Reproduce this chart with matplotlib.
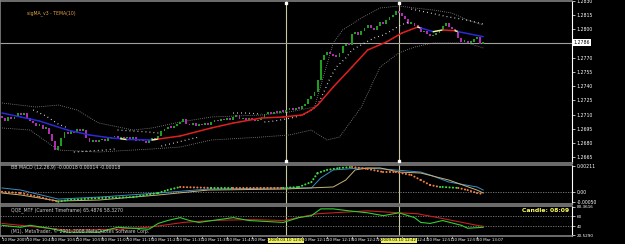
import numpy as np
import matplotlib
matplotlib.use("Agg")
import matplotlib.pyplot as plt

W, H = 625, 244

# EURUSD M1, 10 Mar 2009, first bar 10:35
first_open = 1.2709
close = [1.2706, 1.2703, 1.2708, 1.2705, 1.2707, 1.2712, 1.2710, 1.2712, 1.2706, 1.2703,
         1.2701, 1.2698, 1.2699, 1.2695, 1.2696, 1.2690, 1.2682, 1.2673, 1.2677, 1.2685,
         1.2692, 1.2690, 1.2693, 1.2691, 1.2695, 1.2693, 1.2694, 1.2685, 1.2681, 1.2683,
         1.2681, 1.2683, 1.2684, 1.2682, 1.2685, 1.2686, 1.2687, 1.2685, 1.2686, 1.2685,
         1.2686, 1.2684, 1.2686, 1.2682, 1.2684, 1.2682, 1.2680, 1.2683, 1.2685, 1.2684,
         1.2687, 1.2693, 1.2695, 1.2697, 1.2696, 1.2698, 1.2700, 1.2702, 1.2705, 1.2700,
         1.2699, 1.2701, 1.2698, 1.2700, 1.2699, 1.2701, 1.2699, 1.2702, 1.2704, 1.2703,
         1.2705, 1.2704, 1.2706, 1.2704, 1.2707, 1.2710, 1.2705, 1.2706, 1.2704, 1.2706,
         1.2705, 1.2703, 1.2704, 1.2706, 1.2711, 1.2712, 1.2711, 1.2713, 1.2712, 1.2714,
         1.2713, 1.2715, 1.2716, 1.2715, 1.2717, 1.2716, 1.2719, 1.2721, 1.2727, 1.2730,
         1.2734, 1.2747, 1.2768, 1.2773, 1.2776, 1.2774, 1.2772, 1.2771, 1.2775, 1.2783,
         1.2785, 1.2784, 1.2795, 1.2797, 1.2794, 1.2798, 1.2802, 1.2805, 1.2802, 1.2799,
         1.2804, 1.2808, 1.2806, 1.2810, 1.2813, 1.2815, 1.2819, 1.2817, 1.2814, 1.2811,
         1.2806, 1.2807, 1.2804, 1.2803, 1.2797, 1.2798, 1.2795, 1.2793, 1.2794, 1.2796,
         1.2799, 1.2804, 1.2807, 1.2803, 1.2800, 1.2798, 1.2791, 1.2787, 1.2788, 1.2786,
         1.2787, 1.2790, 1.2792, 1.2785, 1.2786]

# sigMA / TEMA line (bar, price, colour)
ma_bar = [0, 6, 12, 21, 28, 35, 38, 40, 48, 50, 57, 67, 74, 83, 90, 96, 99, 101, 106,
          112, 117, 123, 128, 133, 134, 138, 141, 145, 146, 154]
ma_val = [1.27117, 1.27075, 1.27032, 1.26937, 1.26885, 1.26853, 1.26845, 1.26837, 1.26832,
          1.26842, 1.26874, 1.26959, 1.27011, 1.27064, 1.27075, 1.27096, 1.27149, 1.27201,
          1.27392, 1.27603, 1.27782, 1.27867, 1.27962, 1.28025, 1.28015, 1.27976, 1.27994,
          1.27986, 1.27976, 1.27923]
ma_col = ["b", "b", "b", "b", "b", "b", "b", "y", "b", "y", "r", "r", "r", "r", "r", "r",
          "r", "r", "r", "r", "r", "r", "r", "r", "y", "b", "y", "r", "y", "b"]

# Bollinger bands
bb_up_bar = [0, 11, 18, 24, 31, 42, 48, 57, 67, 83, 92, 100, 106, 109, 115, 121, 127, 132,
             138, 144, 149, 154]
bb_up = [1.27223, 1.27180, 1.27201, 1.27149, 1.27011, 1.26937, 1.26959, 1.27022, 1.27075,
         1.27096, 1.27128, 1.27180, 1.27856, 1.27994, 1.28120, 1.28226, 1.28247, 1.28226,
         1.28205, 1.28173, 1.28099, 1.28046]
bb_lo_bar = [0, 9, 18, 31, 42, 48, 57, 67, 83, 92, 99, 104, 108, 115, 121, 127, 132, 138,
             149, 154]
bb_lo = [1.26959, 1.26937, 1.26726, 1.26705, 1.26726, 1.26737, 1.26758, 1.26832, 1.26863,
         1.26885, 1.26937, 1.26832, 1.26863, 1.27180, 1.27603, 1.27751, 1.27814, 1.27856,
         1.27856, 1.27804]

# parabolic SAR runs
sar_runs = [
    ([10, 14, 18, 21], [1.27149, 1.27086, 1.27001, 1.26959]),
    ([23, 28, 33, 36], [1.26705, 1.26716, 1.26726, 1.26737]),
    ([37, 42, 47, 50], [1.26937, 1.26927, 1.26916, 1.26906]),
    ([51, 55, 59, 63], [1.26768, 1.26800, 1.26832, 1.26863]),
    ([74, 78, 83], [1.27117, 1.27117, 1.27106]),
    ([84, 87, 91, 94, 97, 99, 101, 103, 105, 107, 110, 112, 116, 119, 122, 125, 127, 130],
     [1.27022, 1.27032, 1.27054, 1.27075, 1.27107, 1.27149, 1.27201, 1.27339, 1.27487,
      1.27603, 1.27698, 1.27782, 1.27856, 1.27909, 1.27941, 1.27994, 1.28036, 1.28078]),
    ([131, 134, 137, 140, 143, 147, 150, 154],
     [1.28215, 1.28194, 1.28173, 1.28152, 1.28131, 1.28110, 1.28089, 1.28057]),
]

# BB MACD
macd_bar = [0, 6, 12, 18, 21, 31, 42, 50, 53, 57, 67, 74, 90, 95, 99, 101, 104, 108, 112,
            117, 122, 126, 131, 134, 137, 140, 141, 146, 149, 152, 154]
macd_val = [0.00002, -0.00008, -0.00040, -0.00079, -0.00065, -0.00049, -0.00041, -0.00008,
            0.00016, 0.00041, 0.00033, 0.00033, 0.00033, 0.00041, 0.00081, 0.00154, 0.00179,
            0.00195, 0.00203, 0.00187, 0.00162, 0.00162, 0.00138, 0.00097, 0.00057, 0.00041,
            0.00041, 0.00033, 0.00016, -0.00008, -0.00016]
macd_col = ["o", "o", "o", "o", "g", "g", "g", "g", "g", "g", "o", "g", "o", "g", "g", "g",
            "g", "g", "g", "o", "o", "o", "o", "o", "o", "o", "g", "g", "o", "o", "o"]
band1_bar = [0, 6, 18, 31, 50, 66, 90, 99, 102, 106, 115, 122, 130, 134, 137, 143, 152, 154]
band1 = [0.00033, 0.00016, -0.00057, -0.00041, -0.00008, 0.00024, 0.00033, 0.00033, 0.00114,
         0.00179, 0.00195, 0.00187, 0.00170, 0.00162, 0.00138, 0.00081, 0.00041, 0.00016]
band2_bar = [0, 6, 18, 31, 50, 66, 90, 106, 110, 113, 117, 121, 127, 134, 143, 152, 154]
band2 = [-0.00008, -0.00024, -0.00073, -0.00065, -0.00024, 0.00016, 0.00024, 0.00041,
         0.00097, 0.00179, 0.00195, 0.00195, 0.00162, 0.00154, 0.00097, 0.00016, -0.00008]

# QQE MTF
qqe_bar = [0, 6, 9, 15, 21, 31, 37, 42, 47, 50, 53, 57, 60, 63, 74, 79, 90, 95, 99, 102, 106,
           111, 117, 122, 127, 132, 134, 137, 141, 147, 149, 154]
qqe_fast = [41.8, 37.9, 41.8, 36.0, 28.2, 28.2, 37.9, 36.0, 34.0, 45.6, 51.4, 57.2, 51.4, 47.6,
            57.2, 51.4, 47.6, 57.2, 61.1, 74.6, 74.6, 70.7, 66.8, 61.1, 66.8, 57.2, 47.6, 45.6,
            51.4, 41.8, 36.0, 37.9]
qqe_slow_bar = [0, 21, 37, 47, 58, 67, 79, 90, 101, 106, 117, 127, 133, 141, 152, 154]
qqe_slow = [45.6, 32.1, 34.0, 37.9, 47.6, 51.4, 53.3, 51.4, 64.9, 66.8, 70.7, 66.8, 64.9,
            55.3, 41.8, 39.9]

price_ticks = [1.2830, 1.2815, 1.2800, 1.2770, 1.2755, 1.2740, 1.2725, 1.2710, 1.2695,
               1.2680, 1.2665]
time_labels = ["10 Mar 2009", "10 Mar 10:43", "10 Mar 10:51", "10 Mar 10:59", "10 Mar 11:07",
               "10 Mar 11:15", "10 Mar 11:23", "10 Mar 11:31", "10 Mar 11:39", "10 Mar 11:47",
               "10 Mar 11:55", "10 Mar 12:03", "10 Mar 12:11", "10 Mar 12:19", "10 Mar 12:27",
               "10 Mar 12:35", "10 Mar 12:43", "10 Mar 12:51", "10 Mar 12:59", "10 Mar 13:07"]
vlines = [91, 127]
vline_labels = ["2009.03.10 12:06", "2009.03.10 12:42"]
bid = 1.2786

GREEN, PURPLE = "#1e9e1e", "#b02cb0"
MA_COL = {"b": "#2a2ad8", "r": "#e02020", "y": "#f0f0a8"}
DOT_COL = {"g": "#3ce03c", "o": "#f08040"}
GRID = "#808080"
FS = 3.3
FS_T = 2.75

fig = plt.figure(figsize=(W / 100, H / 100), dpi=100, facecolor="black")


def box(top, bottom):
    return [0, 1 - bottom / H, 572 / W, (bottom - top) / H]


ax = fig.add_axes(box(1, 163))
ax_macd = fig.add_axes(box(165, 204))
ax_qqe = fig.add_axes(box(206, 236))

for a in (ax, ax_macd, ax_qqe):
    a.set_facecolor("black")
    a.set_xlim(-0.64, 182.4)
    a.set_xticks([])
    for s in ("top", "bottom", "left"):
        a.spines[s].set_color(GRID)
        a.spines[s].set_linewidth(1.2)
    a.spines["right"].set_color("white")
    a.spines["right"].set_linewidth(0.8)
    a.yaxis.tick_right()
    a.tick_params(axis="y", colors="white", labelsize=FS, length=2, width=0.5, pad=1.5)
    for v in vlines:
        a.axvline(v, color="#c8c8a0", lw=0.8, zorder=1)

# ---- main price chart ----
ax.set_ylim(1.26589, 1.2830)
o = np.array([first_open] + close[:-1])
c = np.array(close)
idx = np.arange(len(c))
up = c >= o
h = np.maximum(np.abs(c - o), 0.00016)
low = np.minimum(o, c)
ax.bar(idx[up], h[up], bottom=low[up], width=0.62, color=GREEN, zorder=3)
ax.bar(idx[~up], h[~up], bottom=low[~up], width=0.62, color=PURPLE, zorder=3)

ax.plot(bb_up_bar, bb_up, color="#8c8c8c", lw=0.6, ls=(0, (1, 1.5)), zorder=2)
ax.plot(bb_lo_bar, bb_lo, color="#8c8c8c", lw=0.6, ls=(0, (1, 1.5)), zorder=2)
for bars, vals in sar_runs:
    ax.plot(bars, vals, color="white", lw=0.9, ls=(0, (0.6, 2.6)), zorder=4)
for j in range(len(ma_bar) - 1):
    ax.plot(ma_bar[j:j + 2], ma_val[j:j + 2], color=MA_COL[ma_col[j + 1]], lw=1.1,
            solid_capstyle="round", zorder=5)

ax.axhline(bid, color="#a0a0a0", lw=0.8, zorder=1)
ax.set_yticks(price_ticks)
ax.set_yticklabels(["%.4f" % p for p in price_ticks])
ax.text(1.003, bid, "%.4f" % bid, transform=ax.get_yaxis_transform(), ha="left",
        va="center", fontsize=FS, color="black",
        bbox=dict(boxstyle="square,pad=0.15", fc="white", ec="none"), clip_on=False)
ax.text(8, 0.928, "sigMA_v3 - TEMA(10)", transform=ax.get_xaxis_transform(),
        fontsize=FS, color="#e0a040", va="center")
for v in vlines:
    ax.plot([v], [0.985], marker="s", ms=1.6, color="white",
            transform=ax.get_xaxis_transform(), clip_on=False, zorder=6)
    ax.plot([v], [0.01], marker="s", ms=1.6, color="white",
            transform=ax.get_xaxis_transform(), clip_on=False, zorder=6)

# ---- BB MACD ----
ax_macd.set_ylim(-0.00097, 0.00219)
ax_macd.axhline(0, color=GRID, lw=0.6, ls=(0, (1.5, 1.5)))
ax_macd.plot(band1_bar, band1, color="#3c8cc8", lw=0.7)
ax_macd.plot(band2_bar, band2, color="#c8b478", lw=0.7)
for j in range(len(macd_bar) - 1):
    ax_macd.plot(macd_bar[j:j + 2], macd_val[j:j + 2], color=DOT_COL[macd_col[j + 1]],
                 lw=1.5, ls=(0, (0.05, 1.6)), dash_capstyle="round", zorder=3)
ax_macd.set_yticks([0.00211, 0.0, -0.00083])
ax_macd.set_yticklabels(["0.00211", "0.00", "-0.00050"])
ax_macd.text(3, 0.93, "BB MACD (12,26,9) -0.00018 0.00014 -0.00018",
             transform=ax_macd.get_xaxis_transform(), fontsize=FS, color="#d0d0d0",
             va="center")

# ---- QQE ----
ax_qqe.set_ylim(20.5290, 80.3616)
for lv in (60, 40):
    ax_qqe.axhline(lv, color=GRID, lw=0.6, ls=(0, (1.5, 1.5)))
ax_qqe.plot(qqe_slow_bar, qqe_slow, color="#c82020", lw=0.8)
ax_qqe.plot(qqe_bar, qqe_fast, color="#30d030", lw=0.8)
ax_qqe.set_yticks([79.0, 60, 40, 22.0])
ax_qqe.set_yticklabels(["80.3616", "60", "40", "20.5290"])
ax_qqe.tick_params(axis="y", labelsize=3.0)
ax_qqe.text(3, 0.86, "QQE_MTF (Current Timeframe) 65.4876 58.3270",
            transform=ax_qqe.get_xaxis_transform(), fontsize=FS, color="#d0d0d0",
            va="center")
ax_qqe.text(3, 0.16, "(M1), MetaTrader, \u00a9 2001-2008 MetaQuotes Software Corp.",
            transform=ax_qqe.get_xaxis_transform(), fontsize=FS, color="#d0d0d0",
            va="center")
ax_qqe.text(181.5, 0.86, "Candle: 08:09", transform=ax_qqe.get_xaxis_transform(),
            fontsize=4.4, color="#ffff60", weight="bold", ha="right", va="center")

# ---- time axis ----
tr = ax_qqe.get_xaxis_transform()
for k, lab in enumerate(time_labels):
    ax_qqe.text(8 * k, -0.14, lab, transform=tr, fontsize=FS_T, color="white",
                ha="left", va="center", clip_on=False)
    ax_qqe.plot([8 * k, 8 * k], [-0.02, -0.07], color="white", lw=0.5, transform=tr,
                clip_on=False)
for v, lab in zip(vlines, vline_labels):
    ax_qqe.text(v, -0.14, lab, transform=tr, fontsize=FS_T, color="black", ha="center",
                va="center", clip_on=False, zorder=10,
                bbox=dict(boxstyle="square,pad=0.12", fc="#f0f060", ec="none"))

fig.savefig("out.png", dpi=100, facecolor="black")
